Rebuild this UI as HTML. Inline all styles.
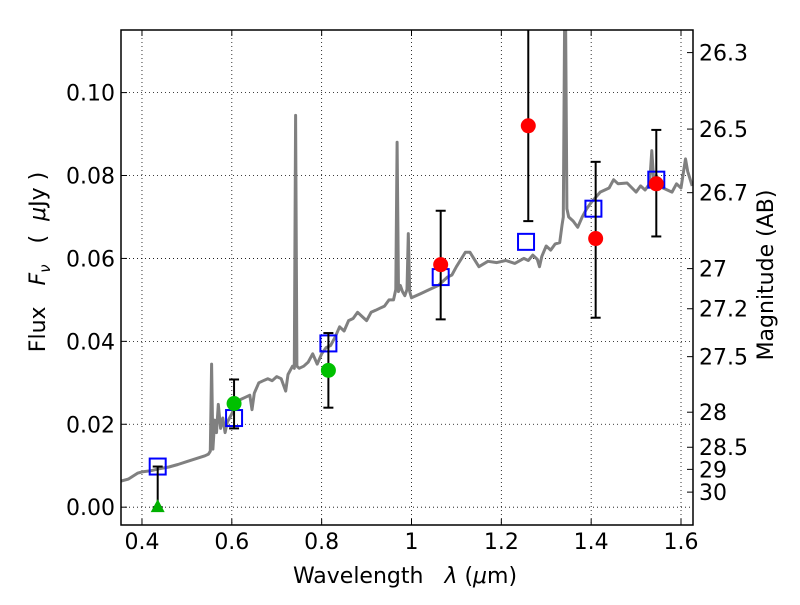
<!DOCTYPE html>
<html><head><meta charset="utf-8"><style>
body{margin:0;background:#fff}
svg text{font-family:"DejaVu Sans","Liberation Sans",sans-serif;fill:#000;white-space:pre}
</style></head><body>
<svg id="c" width="800" height="600" xmlns="http://www.w3.org/2000/svg"></svg>
<script>
const specX=[0.35,0.37,0.39,0.40,0.42,0.44,0.46,0.48,0.50,0.52,0.54,0.548,0.552,0.555,0.558,0.562,0.566,0.57,0.575,0.58,0.585,0.59,0.60,0.61,0.62,0.63,0.64,0.645,0.65,0.66,0.67,0.68,0.69,0.70,0.71,0.72,0.725,0.73,0.735,0.739,0.742,0.745,0.75,0.76,0.77,0.78,0.79,0.80,0.81,0.82,0.83,0.84,0.85,0.86,0.87,0.88,0.89,0.90,0.91,0.92,0.93,0.94,0.95,0.96,0.965,0.968,0.971,0.975,0.98,0.985,0.99,0.993,0.996,1.0,1.02,1.04,1.06,1.08,1.09,1.10,1.12,1.13,1.15,1.17,1.19,1.21,1.23,1.25,1.26,1.27,1.28,1.285,1.29,1.30,1.31,1.32,1.33,1.335,1.338,1.342,1.346,1.35,1.36,1.37,1.38,1.39,1.40,1.42,1.44,1.45,1.46,1.48,1.50,1.51,1.52,1.53,1.535,1.54,1.545,1.55,1.56,1.58,1.59,1.60,1.61,1.615,1.625];
const specY=[0.0062,0.0068,0.0082,0.0085,0.0088,0.0093,0.0097,0.0103,0.0110,0.0117,0.0124,0.0128,0.0135,0.0345,0.014,0.021,0.018,0.0248,0.019,0.0215,0.018,0.0205,0.0225,0.025,0.026,0.0265,0.027,0.0235,0.0275,0.030,0.0305,0.031,0.0305,0.0315,0.031,0.028,0.032,0.033,0.034,0.0335,0.0945,0.034,0.0335,0.034,0.035,0.037,0.0345,0.037,0.0385,0.039,0.041,0.0435,0.0425,0.045,0.0455,0.047,0.046,0.045,0.047,0.0475,0.048,0.0485,0.050,0.050,0.0525,0.088,0.052,0.0535,0.052,0.051,0.0525,0.066,0.052,0.0505,0.0515,0.0525,0.0535,0.0555,0.056,0.058,0.0615,0.0615,0.0580,0.0593,0.0590,0.0595,0.0588,0.0600,0.0595,0.0608,0.0598,0.058,0.0605,0.0630,0.0620,0.0635,0.0638,0.068,0.0700,0.135,0.0720,0.0700,0.0690,0.0675,0.0700,0.0720,0.0735,0.0760,0.0770,0.0790,0.0780,0.0782,0.0760,0.0775,0.0765,0.0780,0.0860,0.0775,0.0800,0.0790,0.0770,0.0760,0.0780,0.0770,0.0840,0.0810,0.0775];
const modelX=[0.435,0.605,0.815,1.065,1.255,1.405,1.545];
const modelY=[0.0098,0.0215,0.0395,0.0555,0.064,0.072,0.079];
const obsX=[0.605,0.815,1.065,1.26,1.41,1.545];
const obsY=[0.025,0.033,0.0585,0.092,0.0648,0.078];
const obsLo=[0.0190,0.0240,0.0453,0.0690,0.0457,0.0653];
const obsHi=[0.0308,0.0420,0.0715,0.1160,0.0833,0.0910];
const obsColor=["#00c000","#00c000","red","red","red","red"];
const limX=[0.435];const limY=[0.0];const limHi=[0.0098];
const xTicks=[0.4,0.6,0.8,1.0,1.2,1.4,1.6];const xTickLabels=["0.4","0.6","0.8","1","1.2","1.4","1.6"];
const yTicks=[0,0.02,0.04,0.06,0.08,0.10];const yTickLabels=["0.00","0.02","0.04","0.06","0.08","0.10"];
const magTicks=[26.3,26.5,26.7,27,27.2,27.5,28,28.5,29,30];const magLabels=["26.3","26.5","26.7","27","27.2","27.5","28","28.5","29","30"];

const L=121,R=693,T=30,B=525,X0=0.3533,X1=1.6267,Y0=-0.0043,Y1=0.1151;
const sx=v=>L+(v-X0)/(X1-X0)*(R-L), sy=v=>B-(v-Y0)/(Y1-Y0)*(B-T);
const svg=document.getElementById('c');const NS='http://www.w3.org/2000/svg';
function el(t,a,p){const e=document.createElementNS(NS,t);for(const k in a)e.setAttribute(k,a[k]);(p||svg).appendChild(e);return e;}
const defs=el('defs',{});const cp=el('clipPath',{id:'cp'},defs);el('rect',{x:L,y:T,width:R-L,height:B-T},cp);
xTicks.forEach((v,i)=>{const x=sx(v);
 let g=el('line',{x1:x,x2:x,y1:T,y2:B,stroke:'#000','stroke-dasharray':'1,3','stroke-width':0.8});
 
 el('line',{x1:x,x2:x,y1:B,y2:B-6,stroke:'#000'});el('line',{x1:x,x2:x,y1:T,y2:T+6,stroke:'#000'});
 let t=el('text',{x:x,y:B+24,'text-anchor':'middle','font-size':22});t.textContent=xTickLabels[i];
 });
yTicks.forEach((v,i)=>{const y=sy(v);
 let g=el('line',{x1:L,x2:R,y1:y,y2:y,stroke:'#000','stroke-dasharray':'1,3','stroke-width':0.8});
 
 el('line',{x1:L,x2:L+6,y1:y,y2:y,stroke:'#000'});
 let t=el('text',{x:L-6,y:y+8,'text-anchor':'end','font-size':22});t.textContent=yTickLabels[i];
 });
magTicks.forEach((m,i)=>{const y=sy(Math.pow(10,(23.9-m)/2.5));
 el('line',{x1:R,x2:R-6,y1:y,y2:y,stroke:'#000'});
 let t=el('text',{x:R+6,y:y+8,'font-size':22});t.textContent=magLabels[i];
 });
let d=specX.map((v,i)=>(i?'L':'M')+sx(v).toFixed(1)+','+sy(specY[i]).toFixed(1)).join('');
let sp=el('path',{d:d,fill:'none',stroke:'#808080','stroke-width':3,'stroke-linejoin':'round','clip-path':'url(#cp)'});

modelX.forEach((v,i)=>{let r=el('rect',{x:sx(v)-8,y:sy(modelY[i])-8,width:16,height:16,fill:'none',stroke:'#0000ff','stroke-width':2});
 });
function ebar(x,lo,hi){const X=sx(x),a=sy(lo),b=sy(hi);
 el('line',{x1:X,x2:X,y1:a,y2:b,stroke:'#000','stroke-width':2,'clip-path':'url(#cp)'});
 el('line',{x1:X-5,x2:X+5,y1:a,y2:a,stroke:'#000','stroke-width':2,'clip-path':'url(#cp)'});
 el('line',{x1:X-5,x2:X+5,y1:b,y2:b,stroke:'#000','stroke-width':2,'clip-path':'url(#cp)'});}
limX.forEach((v,i)=>{ebar(v,limY[i],limHi[i]);const X=sx(v),Y=sy(limY[i]);
 let p=el('polygon',{points:`${X},${Y-8} ${X-7},${Y+5} ${X+7},${Y+5}`,fill:'#00b000'});
 });
obsX.forEach((v,i)=>{ebar(v,obsLo[i],obsHi[i]);
 let c=el('circle',{cx:sx(v),cy:sy(obsY[i]),r:7.5,fill:obsColor[i]});
 });
let f=el('rect',{x:L,y:T,width:R-L,height:B-T,fill:'none',stroke:'#000','stroke-width':1.5});

let xl=el('text',{x:(L+R)/2-2,y:583,'text-anchor':'middle','font-size':22});xl.innerHTML='Wavelength   <tspan font-style="italic">λ</tspan> (<tspan font-style="italic">μ</tspan>m)';

let yl=el('text',{transform:'translate(45,262) rotate(-90)','text-anchor':'middle','font-size':22});yl.innerHTML='Flux   <tspan font-style="italic">F</tspan><tspan font-style="italic" font-size="15" dy="5">ν</tspan><tspan dy="-5">   (  </tspan><tspan font-style="italic">μ</tspan>Jy )';

let ml=el('text',{transform:'translate(773,275) rotate(-90)','text-anchor':'middle','font-size':22});ml.textContent='Magnitude (AB)';

</script>
</body></html>
